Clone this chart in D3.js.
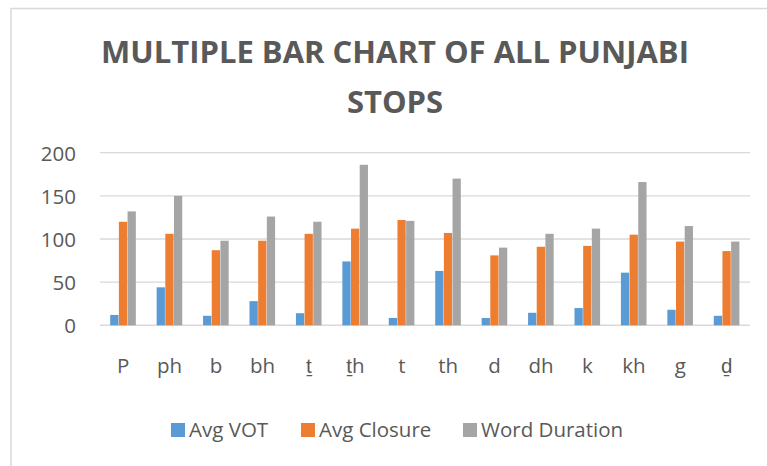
<!DOCTYPE html>
<html lang="en">
<head>
  <meta charset="UTF-8">
  <title>Multiple Bar Chart of All Punjabi Stops</title>
  <script src="https://d3js.org/d3.v7.min.js"></script>
  <style>
    body {
      margin: 0;
      background: #ffffff;
      font-family: 'Open Sans', sans-serif;
    }
    .title {
      font-weight: bold;
      font-size: 31px;
      fill: #595959;
    }
    .tick text, .cat, .legend text {
      font-size: 20.5px;
      fill: #595959;
    }
  </style>
</head>
<body>
  <div id="chart"></div>

  <script>
    // data
    const stops = ["P", "ph", "b", "bh", "t\u0331", "t\u0331h", "t", "th", "d", "dh", "k", "kh", "g", "d\u0331"];
    const avgVOT = [12, 44, 11, 28, 14, 74, 8.5, 63, 8.5, 14.5, 20, 61, 18, 11];
    const avgClosure = [120, 106, 87, 98, 106, 112, 122, 107, 81, 91, 92, 105, 97, 86];
    const wordDuration = [132, 150, 98, 126, 120, 186, 121, 170, 90, 106, 112, 166, 115, 97];
    const seriesNames = ["Avg VOT", "Avg Closure", "Word Duration"];
    const seriesColors = ["#5B9BD5", "#ED7D31", "#A5A5A5"];
    const yTicks = [0, 50, 100, 150, 200];

    const series = [avgVOT, avgClosure, wordDuration];

    const W = 767, H = 466;
    const plot = { left: 100, right: 750, top: 152.7, bottom: 325.3 };

    const svg = d3.select("#chart")
      .append("svg")
      .attr("width", W)
      .attr("height", H);

    // chart area border (extends past the picture on the right and bottom)
    svg.append("rect")
      .attr("x", 11)
      .attr("y", 8.5)
      .attr("width", 820)
      .attr("height", 520)
      .attr("fill", "none")
      .attr("stroke", "#D9D9D9")
      .attr("stroke-width", 1.5);

    // title
    const title = svg.append("text")
      .attr("class", "title")
      .attr("text-anchor", "middle");
    title.append("tspan").attr("x", 395).attr("y", 63).text("MULTIPLE BAR CHART OF ALL PUNJABI");
    title.append("tspan").attr("x", 395).attr("y", 113).text("STOPS");

    const x = d3.scaleBand()
      .domain(stops)
      .range([plot.left, plot.right])
      .paddingInner(0.44)
      .paddingOuter(0.22);

    const xs = d3.scaleBand()
      .domain(seriesNames)
      .range([0, x.bandwidth()]);

    const y = d3.scaleLinear()
      .domain([0, 200])
      .range([plot.bottom, plot.top]);

    // gridlines
    svg.append("g")
      .selectAll("line")
      .data(yTicks)
      .join("line")
      .attr("x1", plot.left)
      .attr("x2", plot.right)
      .attr("y1", d => y(d))
      .attr("y2", d => y(d))
      .attr("stroke", "#D9D9D9")
      .attr("stroke-width", d => d === 0 ? 1.6 : 1.3);

    // y axis labels
    const yAxis = svg.append("g")
      .attr("transform", `translate(${plot.left},0)`)
      .call(d3.axisLeft(y).tickValues(yTicks).tickSize(0).tickPadding(24));
    yAxis.select(".domain").remove();
    yAxis.selectAll("text")
      .attr("font-family", "'Open Sans', sans-serif")
      .attr("dy", "0.36em");

    // bars
    const groups = svg.append("g")
      .selectAll("g")
      .data(stops)
      .join("g")
      .attr("transform", d => `translate(${x(d)},0)`);

    groups.selectAll("rect")
      .data((d, i) => series.map((s, k) => ({ name: seriesNames[k], value: s[i], k })))
      .join("rect")
      .attr("x", d => xs(d.name))
      .attr("width", xs.bandwidth() - 0.4)
      .attr("y", d => y(d.value))
      .attr("height", d => y(0) - y(d.value))
      .attr("fill", d => seriesColors[d.k]);

    // category labels
    svg.append("g")
      .selectAll("text")
      .data(stops)
      .join("text")
      .attr("class", "cat")
      .attr("x", d => x(d) + x.bandwidth() / 2)
      .attr("y", 372.5)
      .attr("text-anchor", "middle")
      .text(d => d);

    // legend
    const legendX = [171, 301, 463];
    const legend = svg.append("g")
      .attr("class", "legend")
      .selectAll("g")
      .data(seriesNames)
      .join("g")
      .attr("transform", (d, i) => `translate(${legendX[i]},423)`);

    legend.append("rect")
      .attr("width", 14)
      .attr("height", 14)
      .attr("fill", (d, i) => seriesColors[i]);

    legend.append("text")
      .attr("x", 18)
      .attr("y", 14)
      .text(d => d);
  </script>
</body>
</html>
